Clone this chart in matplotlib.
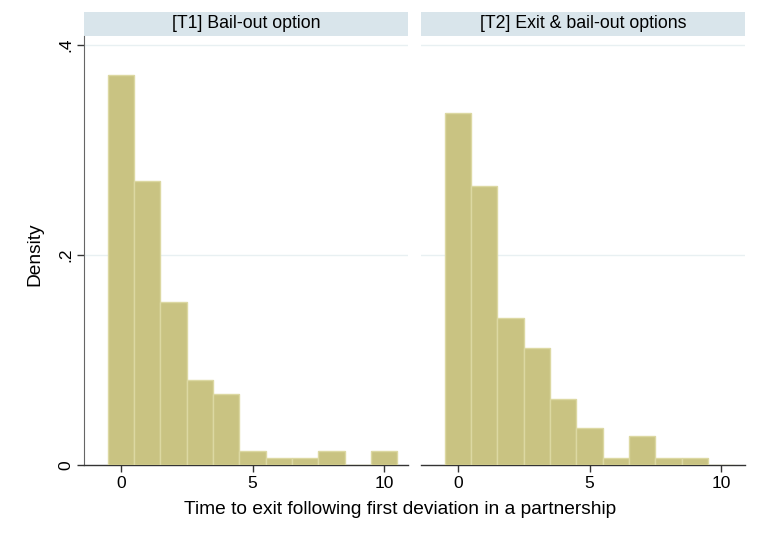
import matplotlib.pyplot as plt
from matplotlib.patches import Rectangle

# histogram data (density per unit-width bin, bins centred on 0..10)
bins = [0, 1, 2, 3, 4, 5, 6, 7, 8, 9, 10]
t1_density = [0.3716, 0.2703, 0.1554, 0.0811, 0.0676, 0.0135, 0.0068, 0.0068, 0.0135, 0.0, 0.0135]
t2_density = [0.3357, 0.2657, 0.1399, 0.1119, 0.0629, 0.0350, 0.0070, 0.0280, 0.0070, 0.0070, 0.0]
panel_titles = ["[T1] Bail-out option", "[T2] Exit & bail-out options"]
y_ticks = [0, 0.2, 0.4]
y_ticklabels = ["0", ".2", ".4"]
x_ticks = [0, 5, 10]

plt.rcParams['font.family'] = ['Liberation Sans', 'DejaVu Sans']

bar_fill = "#c9c382"
bar_edge = "#dcd8a2"
strip_color = "#d9e5eb"
grid_color = "#e8f0f2"

fig = plt.figure(figsize=(7.57, 5.33), dpi=100)
W, H = 757, 533

def px_axes(x0, x1, y_top, y_bot):
    return fig.add_axes([x0 / W, 1 - y_bot / H, (x1 - x0) / W, (y_bot - y_top) / H])

ax1 = px_axes(84, 408, 36, 465)
ax2 = px_axes(421, 745, 36, 465)

for i, (ax, dens, title) in enumerate(zip([ax1, ax2], [t1_density, t2_density], panel_titles)):
    ax.bar(bins, dens, width=1.0, color=bar_fill, edgecolor=bar_edge, linewidth=1.0, zorder=3)
    ax.set_xlim(-1.4, 10.9)
    ax.set_ylim(0, 0.4086)
    for yt in y_ticks[1:]:
        ax.axhline(yt, color=grid_color, lw=1.0, zorder=1)
    for side in ["top", "right"]:
        ax.spines[side].set_visible(False)
    ax.spines["bottom"].set_color("#333333")
    ax.spines["bottom"].set_linewidth(1.0)
    ax.set_xticks(x_ticks)
    ax.set_xticklabels([str(t) for t in x_ticks], fontsize=12.5)
    ax.tick_params(axis="x", length=5, width=1, color="#333333", pad=3)
    if i == 0:
        ax.spines["left"].set_color("#666666")
        ax.set_yticks(y_ticks)
        ax.set_yticklabels(y_ticklabels, fontsize=12.5, rotation=90, va="center")
        ax.tick_params(axis="y", length=5, width=1, color="#333333", pad=3)
    else:
        ax.spines["left"].set_visible(False)
        ax.set_yticks([])
    # strip title
    strip_h = 24 / 429
    ax.add_patch(Rectangle((0, 1), 1, strip_h, transform=ax.transAxes,
                           facecolor=strip_color, edgecolor="none", clip_on=False))
    ax.text(0.5, 1 + strip_h / 2, title, transform=ax.transAxes,
            ha="center", va="center", fontsize=12.8)

fig.text(35 / W, 1 - 254 / H, "Density", rotation=90, ha="center", va="center", fontsize=13.8)
fig.text(400 / W, 1 - 509 / H, "Time to exit following first deviation in a partnership",
         ha="center", va="center", fontsize=13.8)

fig.savefig("out.png", dpi=100, facecolor="white")
